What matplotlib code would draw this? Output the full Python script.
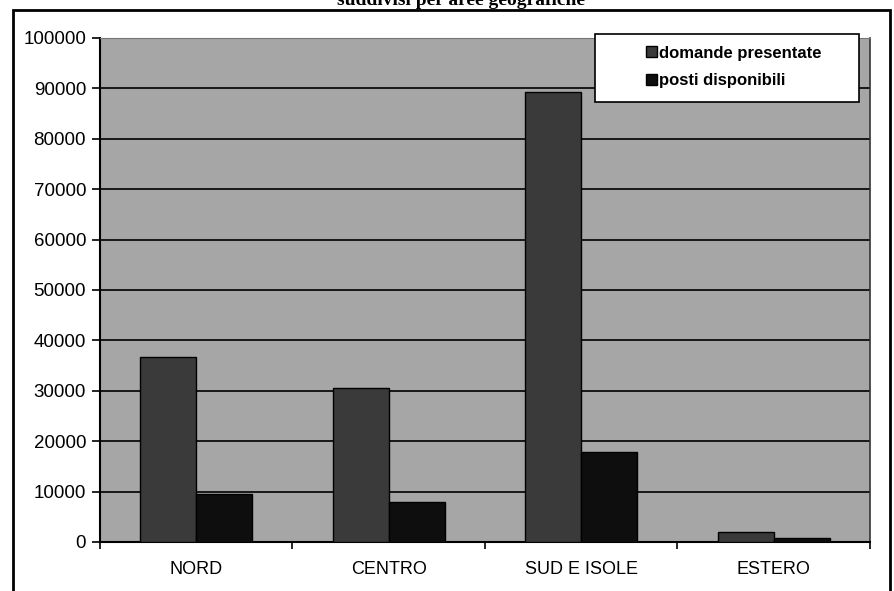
import matplotlib
matplotlib.use("Agg")
import matplotlib.pyplot as plt
import numpy as np
from matplotlib.patches import Rectangle

categories = ["NORD", "CENTRO", "SUD E ISOLE", "ESTERO"]
domande = [36800, 30500, 89300, 2000]
posti = [9500, 8000, 17900, 700]
series_names = ["domande presentate", "posti disponibili"]
yticks = list(range(0, 100001, 10000))

W, H = 895, 591
fig = plt.figure(figsize=(W / 100, H / 100), dpi=100)
fig.patch.set_facecolor("white")

def fx(px):
    return px / W

def fy(py):
    return 1 - py / H

ax = fig.add_axes([fx(100), fy(542), fx(870) - fx(100), fy(38) - fy(542)])
ax.set_facecolor("#a6a6a6")

x = np.arange(len(categories))
bw = 0.29
ax.bar(x - bw / 2, domande, bw, color="#3a3a3a", edgecolor="black", linewidth=1.0,
       label=series_names[0], zorder=3)
ax.bar(x + bw / 2, posti, bw, color="#0e0e0e", edgecolor="black", linewidth=1.0,
       label=series_names[1], zorder=3)

ax.set_xlim(-0.5, len(categories) - 0.5)
ax.set_ylim(0, 100000)
ax.set_yticks(yticks)
ax.set_yticklabels([str(v) for v in yticks], fontsize=13.5, family="Liberation Sans")
ax.yaxis.grid(True, color="black", linewidth=1.2, zorder=1)
ax.set_axisbelow(True)

# category boundaries as major ticks, labels at centers as minor
ax.set_xticks(np.arange(-0.5, len(categories), 1.0))
ax.set_xticklabels([])
ax.set_xticks(x, minor=True)
ax.set_xticklabels(categories, minor=True, fontsize=13, family="Liberation Sans")
ax.tick_params(axis="x", which="minor", length=0, pad=14)
ax.tick_params(axis="x", which="major", length=5, width=1.2, direction="out")
ax.tick_params(axis="y", length=6, width=1.2, direction="out", pad=4)

for s in ["left", "bottom"]:
    ax.spines[s].set_color("black")
    ax.spines[s].set_linewidth(1.5)
ax.spines["right"].set_color("#333333")
ax.spines["right"].set_linewidth(1.2)
ax.spines["top"].set_color("#777777")
ax.spines["top"].set_linewidth(0.8)

# legend box
fig.patches.append(Rectangle((fx(595), fy(102)), fx(859) - fx(595), fy(34) - fy(102),
                             transform=fig.transFigure, facecolor="white",
                             edgecolor="black", linewidth=1.2, zorder=5))
h, l = ax.get_legend_handles_labels()
leg = fig.legend(h, l, loc="center left",
                 bbox_to_anchor=(fx(638), fy(67)), frameon=False,
                 prop={"family": "Liberation Sans", "size": 12, "weight": "bold"},
                 handlelength=0.65, handleheight=0.65, handletextpad=0.1,
                 labelspacing=0.75, borderpad=0)
leg.set_zorder(6)

# outer chart border
fig.patches.append(Rectangle((fx(13), fy(600)), fx(890) - fx(13), fy(10) - fy(600),
                             transform=fig.transFigure, facecolor="none",
                             edgecolor="black", linewidth=2.0, zorder=0))

# title (cut off at the top in the scan)
fig.text(fx(461), fy(5), "suddivisi per aree geografiche", ha="center", va="baseline",
         fontsize=14, weight="bold", family="Liberation Serif")

fig.savefig("out.png", dpi=100)
